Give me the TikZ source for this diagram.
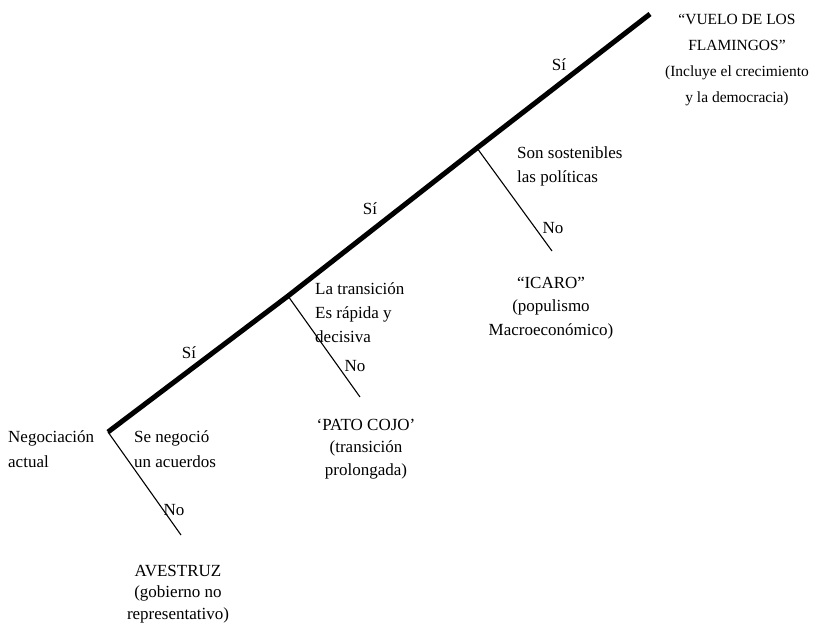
\documentclass[tikz,border=0pt]{standalone}
\usepackage{fontspec}
\setmainfont{Liberation Serif}

\begin{document}
\begin{tikzpicture}[x=1pt,y=-1pt,
    every node/.style={font=\fontsize{17}{24}\selectfont,inner sep=0pt}]
        \useasboundingbox (0,0) rectangle (813,625);

        % Decision points on the main path
        \coordinate (d1) at (108,432);
        \coordinate (d2) at (288,296);
        \coordinate (d3) at (477,148);
        \coordinate (top) at (650,14);
        % Ends of the No branches
        \coordinate (e1) at (181,535);
        \coordinate (e2) at (360,397);
        \coordinate (e3) at (552,251);

        % Main path (Si)
        \draw[line width=5pt] (d1) -- (d2) -- (d3) -- (top);

        % No branches
        \draw[line width=1.1pt] (d1) -- (e1);
        \draw[line width=1.1pt] (d2) -- (e2);
        \draw[line width=1.1pt] (d3) -- (e3);

        % Questions (base = last line)
        \node[anchor=base west,align=left,font=\fontsize{17}{25}\selectfont] (start) at (8,467) {Negociación\\actual};
        \node[anchor=base west,align=left,font=\fontsize{17}{25}\selectfont] (q1) at (134,467) {Se negoció\\un acuerdos};
        \node[anchor=base west,align=left] (q2) at (315,342) {La transición\\Es rápida y\\decisiva};
        \node[anchor=base west,align=left] (q3) at (517,182) {Son sostenibles\\las políticas};

        % Si / No
        \node[anchor=base] (yes1) at (189,358) {Sí};
        \node[anchor=base] (yes2) at (370,214) {Sí};
        \node[anchor=base] (yes3) at (559,70) {Sí};
        \node[anchor=base] (no1) at (174,515) {No};
        \node[anchor=base] (no2) at (355,371) {No};
        \node[anchor=base] (no3) at (553,233) {No};

        % Outcomes
        \node[anchor=base,align=center,font=\fontsize{17}{21.5}\selectfont] (avestruz) at (178,619) {AVESTRUZ\\(gobierno no\\representativo)};
        \node[anchor=base,align=center,font=\fontsize{17}{22.5}\selectfont] (pato) at (366,475) {‘PATO COJO’\\(transición\\prolongada)};
        \node[anchor=base,align=center,font=\fontsize{17}{23.5}\selectfont] (icaro) at (551,335) {“ICARO”\\(populismo\\Macroeconómico)};
        \node[anchor=base,align=center,font=\fontsize{15.5}{26}\selectfont] (vuelo) at (737,102) {“VUELO DE LOS\\FLAMINGOS”\\(Incluye el crecimiento\\y la democracia)};
    \end{tikzpicture}
\end{document}
